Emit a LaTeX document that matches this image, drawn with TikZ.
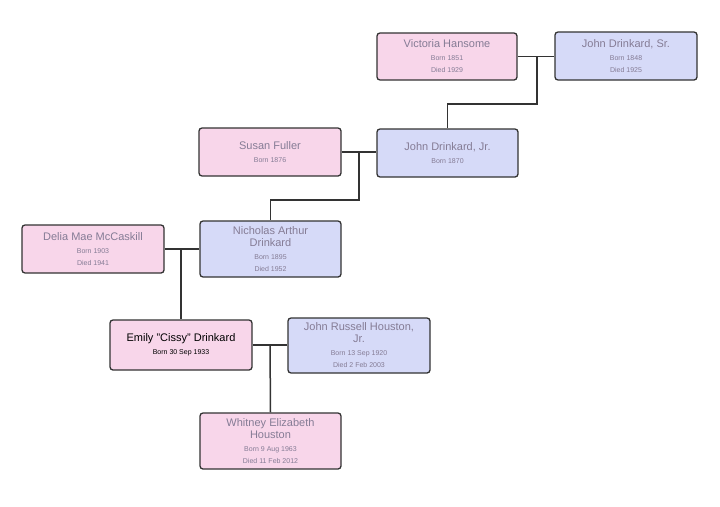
\documentclass[tikz,border=0pt]{standalone}
\usepackage{fontspec}
\setmainfont{Liberation Sans}
\begin{document}
\begin{tikzpicture}[x=1pt,y=-1pt,
  person/.style={draw=black!80,line width=1.3pt,rounded corners=3pt,align=center,inner sep=0pt,text=txt},
  fem/.style={person,fill=pinkf},
  mal/.style={person,fill=bluef},
  link/.style={draw=black!80,line width=1.5pt}]
\definecolor{pinkf}{HTML}{F8D6EA}
\definecolor{bluef}{HTML}{D6DAF8}
\definecolor{txt}{HTML}{857C95}
\useasboundingbox (0,0) rectangle (720,506);
\newcommand{\nm}[1]{{\fontsize{11}{12}\selectfont #1}}
\newcommand{\dt}[1]{{\fontsize{7}{7.5}\selectfont #1}}
\node[fem,minimum width=140,minimum height=47] (vic) at (447,56.5) {\nm{Victoria Hansome}\\[1pt]\dt{Born 1851}\\\dt{Died 1929}};
\node[mal,minimum width=142,minimum height=48] (jsr) at (626,56) {\nm{John Drinkard, Sr.}\\[1pt]\dt{Born 1848}\\\dt{Died 1925}};
\node[fem,minimum width=142,minimum height=48] (sus) at (270,152) {\nm{Susan Fuller}\\[1pt]\dt{Born 1876}};
\node[mal,minimum width=141,minimum height=48] (jjr) at (447.5,153) {\nm{John Drinkard, Jr.}\\[1pt]\dt{Born 1870}};
\node[fem,minimum width=142,minimum height=48] (del) at (93,249) {\nm{Delia Mae McCaskill}\\[1pt]\dt{Born 1903}\\\dt{Died 1941}};
\node[mal,minimum width=141,minimum height=56] (nic) at (270.5,249) {\nm{Nicholas Arthur}\\\nm{Drinkard}\\[1pt]\dt{Born 1895}\\\dt{Died 1952}};
\node[fem,text=black,minimum width=142,minimum height=50] (emi) at (181,345) {\nm{Emily "Cissy" Drinkard}\\[1pt]\dt{Born 30 Sep 1933}};
\node[mal,minimum width=142,minimum height=55] (jrh) at (359,345.5) {\nm{John Russell Houston,}\\\nm{Jr.}\\[1pt]\dt{Born 13 Sep 1920}\\\dt{Died 2 Feb 2003}};
\node[fem,minimum width=141,minimum height=56] (whi) at (270.5,441) {\nm{Whitney Elizabeth}\\\nm{Houston}\\[1pt]\dt{Born 9 Aug 1963}\\\dt{Died 11 Feb 2012}};
\coordinate (m1) at (537,56.5);
\coordinate (m2) at (359,152.5);
\coordinate (m3) at (181,249);
\coordinate (m4) at (270,345);
\draw[link] (vic.east) -- (vic.east -| jsr.west);
\draw[link] (m1) -- (537,104) -| (jjr.north);
\draw[link] (sus.east) -- (sus.east -| jjr.west);
\draw[link] (m2) -- (359,200) -| (nic.north);
\draw[link] (del.east) -- (del.east -| nic.west);
\draw[link] (m3) -- (emi.north);
\draw[link] (emi.east) -- (emi.east -| jrh.west);
\draw[link] (m4) -- (whi.north);
\end{tikzpicture}
\end{document}
